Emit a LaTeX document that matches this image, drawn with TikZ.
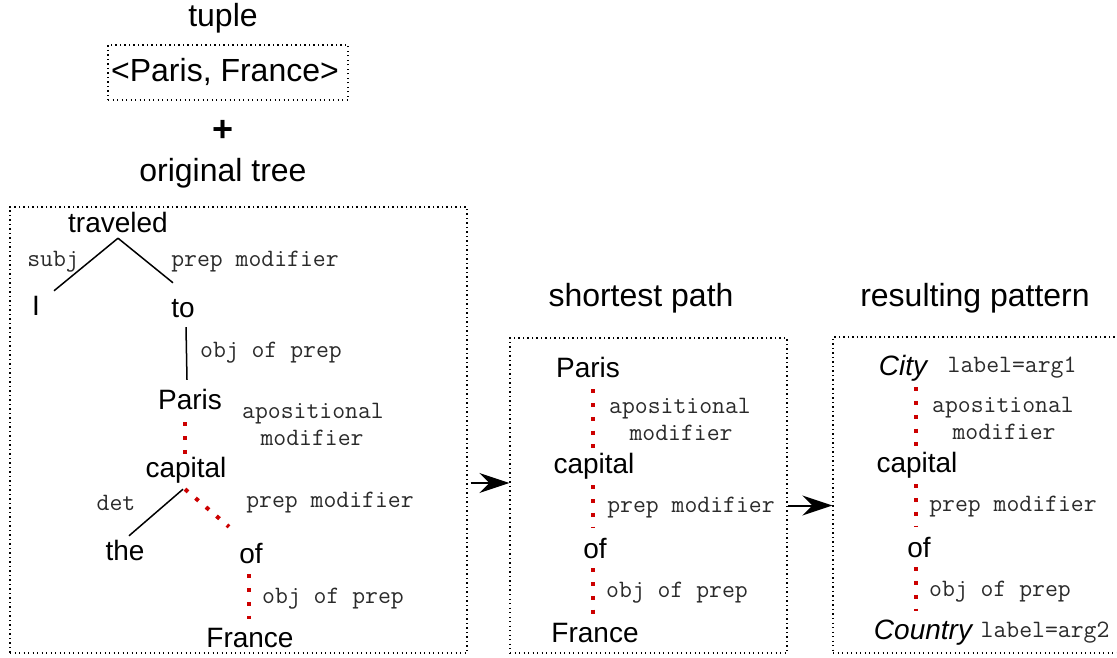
\documentclass[tikz,border=0pt]{standalone}
\usepackage{fontspec}
\setmainfont{Liberation Sans}
\usetikzlibrary{calc,arrows.meta}
\definecolor{pathred}{HTML}{CC0000}
\definecolor{relgray}{HTML}{2A2A2A}
\newcommand{\wordfont}{\fontsize{28}{30}\selectfont}
\newcommand{\headfont}{\fontsize{32}{34}\selectfont}
\newcommand{\relfont}{\ttfamily\fontsize{25}{28}\selectfont}
\begin{document}
\begin{tikzpicture}[x=1pt,y=-1pt,
  word/.style={font=\wordfont, inner sep=0pt, text height=20pt, text depth=6pt, anchor=base},
  head/.style={font=\headfont, inner sep=0pt, anchor=base},
  rel/.style={font=\relfont, text=relgray, inner sep=0pt, anchor=base},
  frame/.style={draw, line width=1.3pt, dash pattern=on 1.3pt off 3.2pt, inner sep=0pt},
  tedge/.style={line width=1.5pt},
  pedge/.style={draw=pathred, line width=4pt, dash pattern=on 4pt off 9.8pt},
  arr/.style={line width=2pt, -{Stealth[length=30pt,width=20pt,inset=10pt]}}]
\useasboundingbox (0,0) rectangle (1117,658);

% input: tuple and dependency tree
\node[head] (tuplehead) at (223,27) {tuple};
\node[frame, minimum width=240pt, minimum height=55pt] (tuplebox) at (228,72.5) {};
\node[head] (tuple) at (225,82) {<Paris, France>};
\node[head, font=\fontsize{36}{38}\selectfont\bfseries] (plus) at (223,142) {+};
\node[head] (treehead) at (223,182) {original tree};
\node[frame, minimum width=457pt, minimum height=446pt] (treebox) at (238.5,430) {};

\node[word] (traveled) at (118,232) {traveled};
\node[word] (I) at (36,315) {I};
\node[word] (to) at (183,317) {to};
\node[word] (paris) at (190,409) {Paris};
\node[word] (capital) at (186,477) {capital};
\node[word] (the) at (125,560) {the};
\node[word] (of) at (251,563) {of};
\node[word] (france) at (250,647) {France};

\draw[tedge] (traveled.south) -- ($(I.north)+(18,-4)$);
\draw[tedge] (traveled.south) -- ($(to.north)+(-10,-14)$);
\draw[tedge] ($(to.south)+(3,4)$) -- ($(paris.north)+(-3,-9)$);
\draw[pedge] ($(paris.south)+(-5,7)$) -- ($(capital.north)+(-1,-3)$);
\draw[tedge] ($(capital.south)+(-3,6)$) -- ($(the.north)+(4,-4)$);
\draw[pedge] ($(capital.south)+(-1,6)$) -- ($(of.north)+(-22,-16)$);
\draw[pedge] ($(of.south)+(-2,5)$) -- ($(france.north)+(-1,-8)$);

\node[rel] (r1) at (53,266) {subj};
\node[rel] (r2) at (255,266) {prep modifier};
\node[rel] (r3) at (271,357) {obj of prep};
\node[rel] (r4) at (313,418) {apositional};
\node[rel] (r4b) at (312,445) {modifier};
\node[rel] (r5) at (116,510) {det};
\node[rel] (r6) at (330,507) {prep modifier};
\node[rel] (r7) at (333,603) {obj of prep};

% shortest path between the two entities
\node[head] (pathhead) at (641,306) {shortest path};
\node[frame, minimum width=277pt, minimum height=315pt] (pathbox) at (648.5,495.5) {};
\node[word] (p2) at (588,377) {Paris};
\node[word] (c2) at (594,473) {capital};
\node[word] (o2) at (595,558) {of};
\node[word] (f2) at (595,642) {France};
\draw[pedge] ($(p2.south)+(5,6)$) -- ($(c2.north)+(-1,-5)$);
\draw[pedge] ($(c2.south)+(-1,6)$) -- ($(o2.north)+(-2,-11)$);
\draw[pedge] ($(o2.south)+(-2,4)$) -- ($(f2.north)+(-2,-8)$);
\node[rel] (q1) at (680,413) {apositional};
\node[rel] (q1b) at (681,440) {modifier};
\node[rel] (q2) at (691,512) {prep modifier};
\node[rel] (q3) at (677,597) {obj of prep};

% generalised pattern
\node[head] (pathead) at (975,306) {resulting pattern};
\node[frame, minimum width=300pt, minimum height=316pt] (patbox) at (983,495) {};
\node[word, font=\wordfont\itshape] (city) at (903,375) {City};
\node[word] (c3) at (917,472) {capital};
\node[word] (o3) at (919,557) {of};
\node[word, font=\wordfont\itshape] (country) at (923,639) {Country};
\draw[pedge] ($(city.south)+(13,6)$) -- ($(c3.north)+(-1,-4)$);
\draw[pedge] ($(c3.south)+(-1,6)$) -- ($(o3.north)+(-3,-11)$);
\draw[pedge] ($(o3.south)+(-3,4)$) -- ($(country.north)+(-7,-8)$);
\node[rel] (l1) at (1012,372) {label=arg1};
\node[rel] (l2) at (1045,637) {label=arg2};
\node[rel] (s1) at (1003,412) {apositional};
\node[rel] (s1b) at (1004,439) {modifier};
\node[rel] (s2) at (1013,511) {prep modifier};
\node[rel] (s3) at (1000,596) {obj of prep};

% flow between the stages
\coordinate (a1) at ($(treebox.east)+(3,53)$);
\draw[arr] (a1) -- (a1 -| pathbox.west);
\coordinate (a2) at ($(pathbox.east)+(0,10)$);
\draw[arr] (a2) -- (a2 -| patbox.west);
\end{tikzpicture}
\end{document}
